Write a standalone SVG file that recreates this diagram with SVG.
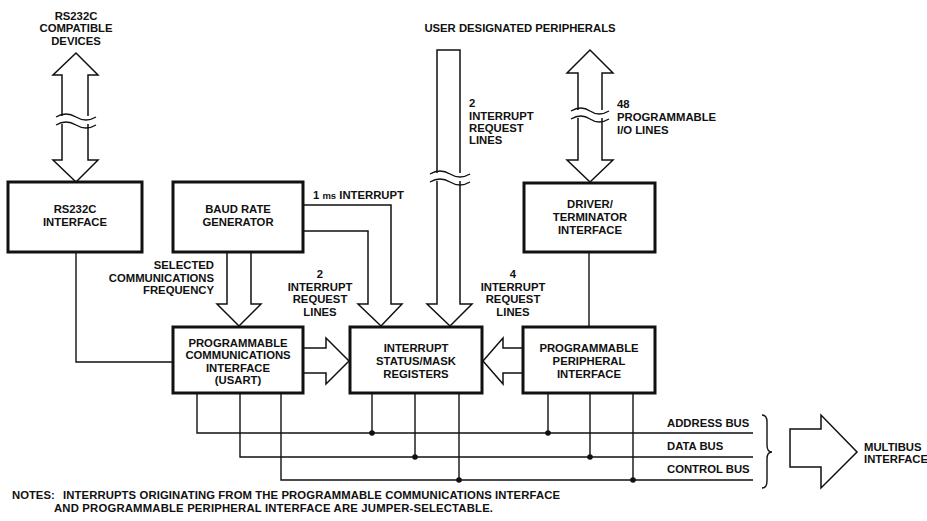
<svg xmlns="http://www.w3.org/2000/svg" width="927" height="521" viewBox="0 0 927 521">
<style>
text{font-family:"Liberation Sans",Arial,sans-serif;font-weight:bold;font-size:11.3px;fill:#111}
.c{text-anchor:middle}
.e{text-anchor:end}
.box{fill:#fff;stroke:#111;stroke-width:3}
.ln{fill:none;stroke:#111;stroke-width:1.4}
.ar{fill:#fff;stroke:#111;stroke-width:1.5;stroke-linejoin:miter}
.dot{fill:#111}
</style>
<rect width="927" height="521" fill="#fff"/>

<g id="connectors">
  <!-- RS232C double arrow -->
  <path class="ar" d="M62 116 L62 75 L53 75 L76 53 L98 75 L88 75 L88 116"/>
  <path class="ar" d="M62 124 L62 160 L53 160 L76 182 L98 160 L88 160 L88 124"/>
  <path class="ln" d="M56 117 q10 -6 20 0 t20 0"/>
  <path class="ln" d="M56 125 q10 -6 20 0 t20 0"/>
  <!-- Driver/Terminator double arrow -->
  <path class="ar" d="M578 110 L578 73 L567 73 L590 50 L613 73 L602 73 L602 110"/>
  <path class="ar" d="M578 118 L578 160 L567 160 L590 182 L613 160 L602 160 L602 118"/>
  <path class="ln" d="M571 111 q10 -6 19 0 t19 0"/>
  <path class="ln" d="M571 119 q10 -6 19 0 t19 0"/>
  <!-- User peripherals interrupt bar -->
  <path class="ar" d="M437 173 L437 50 L460 50 L460 173"/>
  <path class="ar" d="M437 181 L437 304 L427 304 L450 326 L472 304 L460 304 L460 181"/>
  <path class="ln" d="M430 174 q10 -6 20 0 t20 0"/>
  <path class="ln" d="M430 182 q10 -6 20 0 t20 0"/>
  <!-- Baud rate 1ms interrupt / 2 interrupt request lines L-arrow -->
  <path class="ar" d="M303 205 L391 205 L391 304 L402 304 L381 326 L358 304 L368 304 L368 231 L303 231"/>
  <!-- Baud rate to PCI arrow -->
  <path class="ar" d="M227 252 L227 304 L217 304 L239 326 L261 304 L251 304 L251 252"/>
  <!-- PCI to Interrupt arrow -->
  <path class="ar" d="M303 348 L326 348 L326 338 L349 361 L326 384 L326 373 L303 373"/>
  <!-- PPI to Interrupt arrow -->
  <path class="ar" d="M523 348 L503 348 L503 338 L483 361 L503 384 L503 373 L523 373"/>
  <!-- RS232C interface to PCI -->
  <path class="ln" d="M76 252 L76 362 L173 362"/>
  <!-- Driver to PPI -->
  <path class="ln" d="M589 252 L589 327"/>
  <!-- buses -->
  <path class="ln" d="M197 393 L197 433 L753 433"/>
  <path class="ln" d="M240 393 L240 457 L753 457"/>
  <path class="ln" d="M281 393 L281 480 L753 480"/>
  <path class="ln" d="M372 393 L372 433 M415 393 L415 457 M459 393 L459 480"/>
  <path class="ln" d="M548 393 L548 433 M590 393 L590 457 M633 393 L633 480"/>
  <circle class="dot" cx="372" cy="433" r="2.8"/>
  <circle class="dot" cx="415" cy="457" r="2.8"/>
  <circle class="dot" cx="459" cy="480" r="2.8"/>
  <circle class="dot" cx="548" cy="433" r="2.8"/>
  <circle class="dot" cx="590" cy="457" r="2.8"/>
  <circle class="dot" cx="633" cy="480" r="2.8"/>
  <!-- brace -->
  <path class="ln" d="M762 415 Q767 415 767 422 L767 445 Q767 452 772 452 Q767 452 767 459 L767 481 Q767 488 762 488"/>
  <!-- multibus arrow -->
  <path class="ar" d="M790 429 L821 429 L821 415 L857 452 L821 488 L821 467 L790 467 Z"/>
</g>

<g id="labels">
  <text class="c" x="76" y="19.5">RS232C</text>
  <text class="c" x="76" y="32">COMPATIBLE</text>
  <text class="c" x="76" y="45">DEVICES</text>
  <text class="c" x="520" y="32">USER DESIGNATED PERIPHERALS</text>
  <text x="469" y="107">2</text>
  <text x="469" y="119.5">INTERRUPT</text>
  <text x="469" y="132">REQUEST</text>
  <text x="469" y="144">LINES</text>
  <text x="617" y="108">48</text>
  <text x="617" y="121">PROGRAMMABLE</text>
  <text x="617" y="134">I/O LINES</text>
  <text x="313" y="199">1 <tspan font-size="9.5">ms</tspan> INTERRUPT</text>
  <text class="e" x="214" y="269">SELECTED</text>
  <text class="e" x="214" y="281.5">COMMUNICATIONS</text>
  <text class="e" x="214" y="294">FREQUENCY</text>
  <text class="c" x="320" y="278">2</text>
  <text class="c" x="320" y="290.5">INTERRUPT</text>
  <text class="c" x="320" y="303">REQUEST</text>
  <text class="c" x="320" y="316">LINES</text>
  <text class="c" x="513" y="278">4</text>
  <text class="c" x="513" y="290.5">INTERRUPT</text>
  <text class="c" x="513" y="303">REQUEST</text>
  <text class="c" x="513" y="316">LINES</text>
  <text x="667" y="427">ADDRESS BUS</text>
  <text x="667" y="449.5">DATA BUS</text>
  <text x="667" y="472.5">CONTROL BUS</text>
  <text x="864" y="450.5" font-size="10.8">MULTIBUS</text>
  <text x="864" y="462.5" font-size="10.8">INTERFACE</text>
  <text x="12" y="498.5">NOTES:</text>
  <text x="63" y="498.5" textLength="497">INTERRUPTS ORIGINATING FROM THE PROGRAMMABLE COMMUNICATIONS INTERFACE</text>
  <text x="54" y="511.5" textLength="439">AND PROGRAMMABLE PERIPHERAL INTERFACE ARE JUMPER-SELECTABLE.</text>
</g>

<g id="rs232c-interface">
  <rect class="box" x="8" y="182" width="134" height="70"/>
  <text class="c" x="75" y="213">RS232C</text>
  <text class="c" x="75" y="226">INTERFACE</text>
</g>
<g id="baud-rate-generator">
  <rect class="box" x="173" y="182" width="130" height="70"/>
  <text class="c" x="238" y="213">BAUD RATE</text>
  <text class="c" x="238" y="226">GENERATOR</text>
</g>
<g id="driver-terminator">
  <rect class="box" x="524" y="183" width="131" height="69"/>
  <text class="c" x="590" y="208">DRIVER/</text>
  <text class="c" x="590" y="221">TERMINATOR</text>
  <text class="c" x="590" y="233.5">INTERFACE</text>
</g>
<g id="pci">
  <rect class="box" x="173" y="327" width="130" height="66"/>
  <text class="c" x="238" y="346.5">PROGRAMMABLE</text>
  <text class="c" x="238" y="359">COMMUNICATIONS</text>
  <text class="c" x="238" y="371.5">INTERFACE</text>
  <text class="c" x="238" y="384">(USART)</text>
</g>
<g id="interrupt-registers">
  <rect class="box" x="350" y="327" width="132" height="66"/>
  <text class="c" x="416" y="352">INTERRUPT</text>
  <text class="c" x="416" y="365">STATUS/MASK</text>
  <text class="c" x="416" y="377.5">REGISTERS</text>
</g>
<g id="ppi">
  <rect class="box" x="523" y="327" width="132" height="66"/>
  <text class="c" x="589" y="352">PROGRAMMABLE</text>
  <text class="c" x="589" y="365">PERIPHERAL</text>
  <text class="c" x="589" y="377.5">INTERFACE</text>
</g>
</svg>
